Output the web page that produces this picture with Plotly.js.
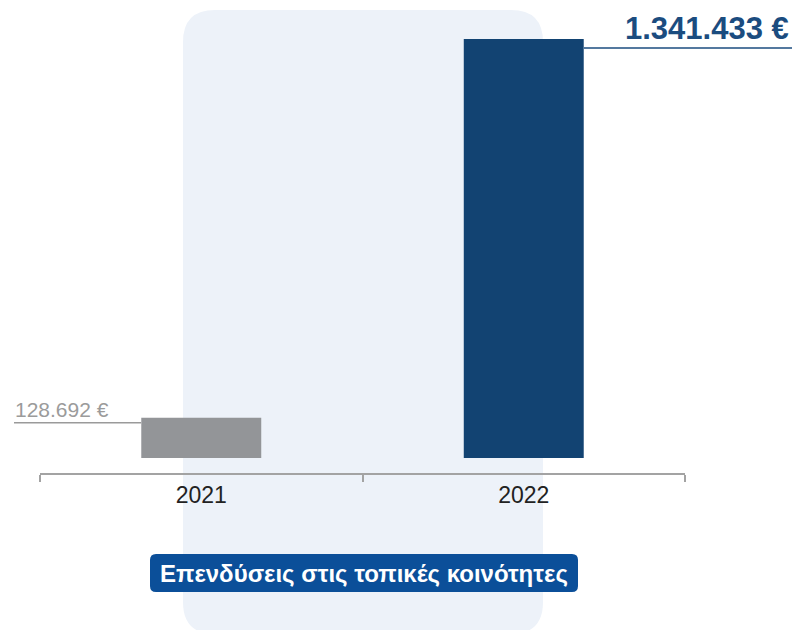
<!DOCTYPE html>
<html>
<head>
<meta charset="utf-8">
<script src="https://cdn.plot.ly/plotly-3.0.1.min.js"></script>
<style>html,body{margin:0;padding:0;background:#fff;}#chart{width:792px;height:630px;}</style>
</head>
<body>
<div id="chart"></div>
<script>
const years = ['2021', '2022'];
const values = [128692, 1341433];
const valueLabels = ['128.692 €', '1.341.433 €'];
const barColors = ['#939598', '#124372'];
const caption = 'Επενδύσεις στις τοπικές κοινότητες';

// layout geometry (pixels)
const W = 792, H = 630;
const mL = 40, mR = 107, mT = 30, mB = 157;
const pw = W - mL - mR, ph = H - mT - mB;
const zeroPx = 458, axisPx = 473;
const unitPerPx = values[1] / (zeroPx - 39);
const yMin = -(axisPx - zeroPx) * unitPerPx;
const yMax = (zeroPx - mT) * unitPerPx;
const px2x = p => (p - mL) / pw;
const px2y = p => (H - mB - p) / ph;

function roundRect(x0, y0, x1, y1, r) {
  const X = px2x, Y = px2y;
  return `M${X(x0 + r)},${Y(y0)} L${X(x1 - r)},${Y(y0)} Q${X(x1)},${Y(y0)} ${X(x1)},${Y(y0 + r)} ` +
         `L${X(x1)},${Y(y1 - r)} Q${X(x1)},${Y(y1)} ${X(x1 - r)},${Y(y1)} ` +
         `L${X(x0 + r)},${Y(y1)} Q${X(x0)},${Y(y1)} ${X(x0)},${Y(y1 - r)} ` +
         `L${X(x0)},${Y(y0 + r)} Q${X(x0)},${Y(y0)} ${X(x0 + r)},${Y(y0)} Z`;
}

const trace = {
  type: 'bar',
  x: years,
  y: values,
  width: 0.372,
  marker: {color: barColors},
  hoverinfo: 'skip'
};

const layout = {
  width: W, height: H,
  margin: {l: mL, r: mR, t: mT, b: mB, pad: 0},
  paper_bgcolor: '#ffffff',
  plot_bgcolor: 'rgba(0,0,0,0)',
  showlegend: false,
  font: {family: '"Liberation Sans", Arial, sans-serif', color: '#222'},
  xaxis: {
    type: 'category',
    range: [-0.5, 1.5],
    showline: true, linecolor: '#a3a3a3', linewidth: 2,
    ticks: 'outside', tickson: 'boundaries', ticklen: 7, tickwidth: 2, tickcolor: '#a3a3a3',
    tickfont: {size: 23, color: '#222'},
    showgrid: false, zeroline: false, fixedrange: true
  },
  yaxis: {
    range: [yMin, yMax], visible: false, showgrid: false, zeroline: false, fixedrange: true
  },
  shapes: [
    {type: 'path', xref: 'paper', yref: 'paper', layer: 'below',
     path: roundRect(183, 10, 543, 634, 32), fillcolor: '#edf2f9', line: {width: 0}},
    {type: 'line', xref: 'paper', yref: 'y', x0: px2x(14), x1: px2x(141),
     y0: values[0] - 5 * unitPerPx, y1: values[0] - 5 * unitPerPx,
     line: {color: '#9a9a9a', width: 1.5}},
    {type: 'line', xref: 'paper', yref: 'y', x0: px2x(584), x1: px2x(792),
     y0: values[1] - 9 * unitPerPx, y1: values[1] - 9 * unitPerPx,
     line: {color: '#1b4c7f', width: 1.5}},
    {type: 'path', xref: 'paper', yref: 'paper', layer: 'above',
     path: roundRect(150, 554, 578, 592, 6), fillcolor: '#0b4f99', line: {width: 0}}
  ],
  annotations: [
    {xref: 'paper', yref: 'y', x: px2x(13), y: values[0], xanchor: 'left', yanchor: 'middle',
     yshift: 8, showarrow: false, text: valueLabels[0],
     font: {size: 21, color: '#9b9b9b'}},
    {xref: 'paper', yref: 'y', x: px2x(791), y: values[1], xanchor: 'right', yanchor: 'middle',
     yshift: 11, showarrow: false, text: '<b>' + valueLabels[1] + '</b>',
     font: {size: 31, color: '#1b4c7f'}},
    {xref: 'paper', yref: 'paper', x: px2x(364), y: px2y(573), xanchor: 'center', yanchor: 'middle',
     showarrow: false, text: '<b>' + caption + '</b>',
     font: {size: 24, color: '#ffffff'}}
  ]
};

Plotly.newPlot('chart', [trace], layout, {displayModeBar: false, staticPlot: true});
</script>
</body>
</html>
